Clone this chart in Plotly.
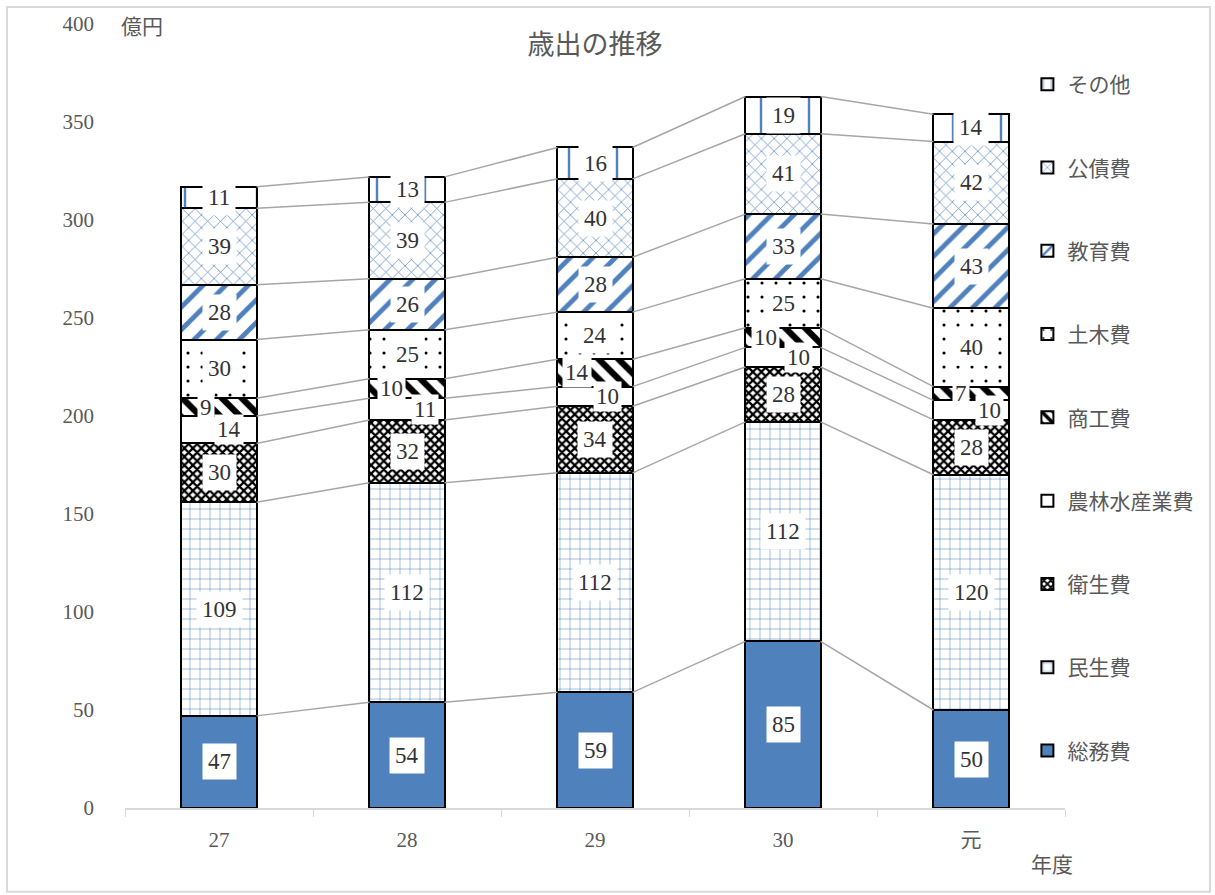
import plotly.graph_objects as go

years = ["27", "28", "29", "30", "元"]
series_names = ["総務費", "民生費", "衛生費", "農林水産業費", "商工費", "土木費", "教育費", "公債費", "その他"]
somu = [47, 54, 59, 85, 50]
minsei = [109, 112, 112, 112, 120]
eisei = [30, 32, 34, 28, 28]
norin = [14, 11, 10, 10, 10]
shoko = [9, 10, 14, 10, 7]
doboku = [30, 25, 24, 25, 40]
kyoiku = [28, 26, 28, 33, 43]
kosai = [39, 39, 40, 41, 42]
sonota = [11, 13, 16, 19, 14]
values = [somu, minsei, eisei, norin, shoko, doboku, kyoiku, kosai, sonota]

BLUE = "#4F81BD"
FONT = "Liberation Serif, Noto Sans CJK JP"
patterns = [
    None,
    dict(shape="+", fgcolor=BLUE, bgcolor="white", size=10, solidity=0.1),
    dict(shape="x", fgcolor="black", bgcolor="white", size=6, solidity=0.6),
    dict(shape="", fgcolor="white", bgcolor="white"),
    dict(shape="\\", fgcolor="black", bgcolor="white", size=14, solidity=0.45),
    dict(shape=".", fgcolor="black", bgcolor="white", size=14, solidity=0.04),
    dict(shape="/", fgcolor=BLUE, bgcolor="white", size=16, solidity=0.3),
    dict(shape="x", fgcolor=BLUE, bgcolor="white", size=9, solidity=0.15),
    dict(shape="|", fgcolor=BLUE, bgcolor="white", size=24, solidity=0.1),
]

xs = list(range(len(years)))
W = 0.4
fig = go.Figure()
for i, (name, vals) in enumerate(zip(series_names, values)):
    marker = dict(line=dict(color="black", width=2))
    if patterns[i] is None:
        marker["color"] = BLUE
    else:
        p = dict(patterns[i])
        p["fgopacity"] = 1
        marker["color"] = "white"
        marker["pattern"] = p
    fig.add_trace(go.Bar(x=xs, y=vals, name=name, width=W, marker=marker,
                         legendgroup=name, legendrank=100 - i, hoverinfo="skip"))

# cumulative tops and connector lines
cum = [0] * len(years)
tops = []
mids = []
for vals in values:
    m = [c + v / 2 for c, v in zip(cum, vals)]
    cum = [c + v for c, v in zip(cum, vals)]
    tops.append(list(cum))
    mids.append(m)

for s, t in enumerate(tops):
    lx, ly = [], []
    for i in range(len(years) - 1):
        lx += [xs[i] + W / 2, xs[i + 1] - W / 2, None]
        ly += [t[i], t[i + 1], None]
    fig.add_trace(go.Scatter(x=lx, y=ly, mode="lines", line=dict(color="#A6A6A6", width=1.5),
                             showlegend=False, hoverinfo="skip"))

# labels
shifts = {3: [10, 18, 12, 15, 18], 4: [-13, -16, -18, -18, -10]}
annotations = []
for s, vals in enumerate(values):
    small = s in (3, 4)
    for i, v in enumerate(vals):
        annotations.append(dict(x=xs[i], y=mids[s][i], text=str(v), showarrow=False,
                                xshift=shifts.get(s, [0] * 5)[i],
                                bgcolor="white", borderpad=2 if small else 5,
                                font=dict(family=FONT, size=23, color="#333333")))

annotations += [
    dict(text="億円", xref="paper", yref="paper", x=-0.006, y=0.996, showarrow=False,
         xanchor="left", yanchor="middle", font=dict(family=FONT, size=21, color="#595959")),
    dict(text="年度", xref="paper", yref="paper", x=0.986, y=-0.0725, showarrow=False,
         xanchor="center", yanchor="middle", font=dict(family=FONT, size=21, color="#595959")),
]

fig.update_layout(
    width=1215, height=895,
    margin=dict(l=125, r=150, t=22, b=87),
    paper_bgcolor="white", plot_bgcolor="white",
    barmode="stack", bargap=0.6,
    title=dict(text="歳出の推移", x=0.5, xref="paper", xanchor="center", y=1 - 45 / 895, yanchor="middle",
               font=dict(family=FONT, size=27, color="#595959")),
    font=dict(family=FONT, size=21, color="#595959"),
    legend=dict(x=0.96, y=0.949, xanchor="left", yanchor="top", traceorder="grouped",
                tracegroupgap=53, font=dict(family=FONT, size=21, color="#595959"),
                itemwidth=30, bgcolor="rgba(0,0,0,0)"),
    annotations=annotations,
    shapes=[dict(type="rect", xref="paper", yref="paper", x0=-0.1255, x1=1.1543, y0=-0.1069, y1=1.0216,
                 line=dict(color="#D9D9D9", width=2))],
)
fig.update_xaxes(range=[-0.5, 4.5], tickvals=xs, ticktext=years, showgrid=False, zeroline=False,
                 showline=True, linecolor="#D9D9D9", linewidth=1.5, ticks="", ticklabelstandoff=12,
                 minor=dict(ticks="outside", tick0=-0.5, dtick=1, ticklen=7, tickcolor="#D9D9D9", showgrid=False),
                 tickfont=dict(family=FONT, size=21, color="#595959"))
fig.update_yaxes(range=[0, 400], dtick=50, showgrid=False, zeroline=False, showline=False,
                 ticks="", ticklabelstandoff=30,
                 tickfont=dict(family=FONT, size=21, color="#595959"))

fig.write_html("out.html")
